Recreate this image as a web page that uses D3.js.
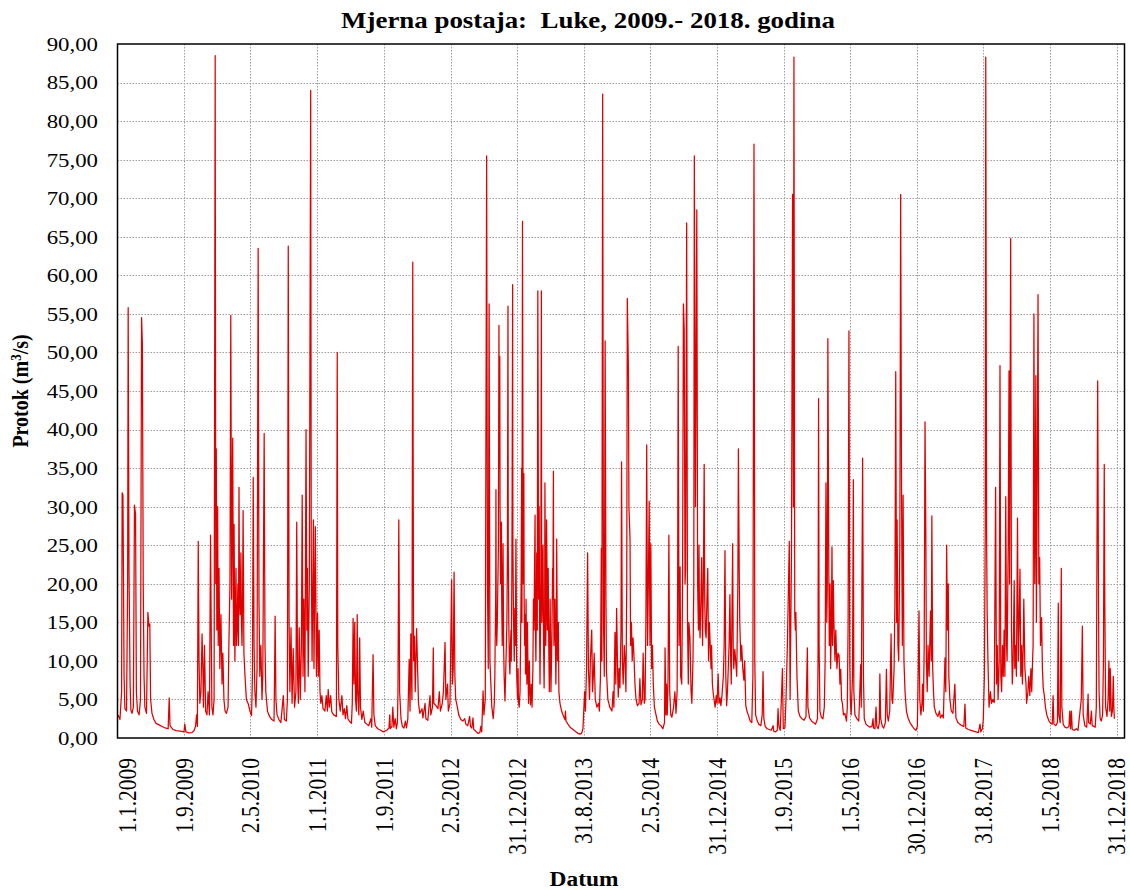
<!DOCTYPE html>
<html><head><meta charset="utf-8">
<script src="https://cdn.jsdelivr.net/npm/d3@7"></script>
<style>
html,body{margin:0;padding:0;background:#fff;}
svg{display:block;}
text{font-family:"Liberation Serif","Times New Roman",serif;fill:#000;}
</style></head><body>
<svg id="chart" width="1130" height="890"></svg>
<script>
// ---------------- data ----------------
const chartTitle = "Mjerna postaja:  Luke, 2009.- 2018. godina";
const xAxisTitle = "Datum";
const yAxisTitle = ["Protok (m", "3", "/s)"];
const yTickValues = [0,5,10,15,20,25,30,35,40,45,50,55,60,65,70,75,80,85,90];
const xTickLabels = ["1.1.2009","1.9.2009","2.5.2010","1.1.2011","1.9.2011","2.5.2012","31.12.2012","31.8.2013","2.5.2014","31.12.2014","1.9.2015","1.5.2016","30.12.2016","31.8.2017","1.5.2018","31.12.2018"];

// daily flow readings: [day of year, m3/s]
const flow2009 = [[3,3.0],[10,2.4],[16,6],[18,31.8],[21,31.5],[25,8],[28,3.8],[34,3.5],[38,20],[40,55.8],[43,22],[47,7],[50,3.6],[54,3.2],[59,4],[63,30.2],[67,29],[70,6],[74,3.5],[80,3.0],[85,5],[89,54.5],[92,51],[95,20],[98,8],[101,4],[107,3.2],[112,16.3],[116,14.5],[119,14.8],[122,5],[127,3.2],[134,2.4],[142,1.9],[153,1.7],[164,1.5],[175,1.3],[186,1.2],[190,5.2],[193,1.6],[204,1.1],[215,0.95],[229,0.9],[244,0.8],[247,1.8],[251,0.8],[262,0.65],[273,0.7],[280,0.9],[286,1.5],[290,3],[293,1.5],[296,25.5],[299,10],[302,4.5],[306,6],[310,13.5],[313,9],[315,4],[319,12],[323,3.5],[328,3],[332,6],[337,3],[341,26.3],[344,12],[346,4],[350,3],[354,5],[358,88.5],[360,20],[362,37.5],[364,14]];
const flow2010 = [[2,30],[4,12],[7,22],[10,9],[14,16],[18,7],[21,11],[25,5],[29,3.5],[34,3.2],[40,4],[43,12],[47,20],[50,54.8],[53,18],[57,38.9],[60,12],[62,27.7],[65,10],[67,16],[69,22],[71,12],[73,14],[76,20],[78,12],[80,32.5],[82,18],[84,16],[87,24],[89,15],[91,12],[93,18],[95,29.5],[98,11],[102,8],[107,5],[114,4.4],[120,3.5],[126,2.9],[129,8],[132,33.8],[135,12],[138,6],[142,4],[146,9],[150,63.5],[153,18],[156,8],[160,12],[164,5],[167,8],[172,39.5],[175,12],[178,6],[184,3.5],[189,3],[195,2.6],[200,2.4],[208,2.2],[210,8],[212,15.8],[215,5],[219,3],[226,2.4],[233,2],[242,5.5],[246,2.4],[253,2.2],[257,5],[260,63.8],[263,15],[266,6],[270,14.3],[274,4.5],[278,11.6],[283,4],[288,6],[291,28],[294,8],[297,4.5],[300,14.3],[304,5],[308,12],[311,31.5],[314,8],[317,18],[321,6],[325,40],[328,14],[330,22],[333,8],[337,20],[342,84],[344,25],[347,10],[352,28.3],[354,9],[359,27.4],[363,8]];
const flow2011 = [[2,16.2],[5,8],[8,14],[11,6],[14,4.5],[18,5.5],[22,3.8],[29,3.5],[34,5.5],[38,3.5],[41,6.3],[45,4],[50,5.5],[54,3.4],[61,3],[71,2.8],[74,50],[76,12],[80,5],[85,3.5],[91,5.5],[95,3],[100,3.8],[104,2.5],[109,4.2],[113,2.5],[118,2.2],[126,1.9],[129,4.5],[132,15.5],[135,7],[138,15],[141,5],[144,3.5],[147,16],[149,6],[153,3],[156,13],[159,4],[164,2.4],[169,3.5],[175,2],[182,1.8],[189,1.6],[197,2.5],[200,1.4],[205,10.8],[208,3],[213,1.6],[222,1.2],[233,1.0],[241,0.8],[248,0.9],[255,1.0],[263,1.3],[266,3],[268,1.2],[274,1.5],[277,4],[281,1.4],[286,2.5],[290,1.2],[294,2],[296,6],[299,28.3],[302,6],[307,2.5],[312,1.5],[318,1.3],[323,2.2],[327,1.3],[332,2.5],[337,10.2],[340,3.5],[343,13.5],[347,5],[350,61.7],[353,10],[356,13.2],[359,6],[364,14.2]];
const flow2012 = [[6,4.5],[11,3.2],[19,3.8],[22,2.6],[30,4.5],[33,2.5],[40,2.3],[48,5.5],[51,3],[57,4],[60,11.7],[62,4.5],[70,4.2],[77,3.8],[82,6],[86,3.5],[93,4.5],[97,6],[103,12.4],[106,5],[112,7],[115,3.5],[121,4.5],[127,20.5],[130,7],[133,9],[136,21.5],[139,8],[142,5],[148,4],[153,3],[161,2.4],[168,2.2],[175,2.5],[179,1.8],[186,1.6],[193,2.8],[196,1.5],[201,1.3],[205,2.6],[208,1.1],[215,0.9],[223,0.6],[230,0.7],[234,1.5],[237,0.8],[242,6.1],[245,3],[250,5],[255,75.5],[258,20],[261,9],[264,56.3],[267,10],[271,6.5],[274,4],[279,2.5],[283,4.5],[285,8],[286,12],[288,18],[289,32.2],[290,15],[292,12],[294,15],[296,20],[298,25],[300,53.5],[301,35],[303,49.5],[304,30],[306,20],[307,25],[309,28],[310,18],[312,12],[313,18],[315,25.2],[317,12],[319,8],[322,4.8],[325,9],[327,12],[329,15],[331,25],[333,56],[334,25],[336,15],[338,10],[340,8.3],[342,12],[344,14],[345,10],[347,20],[348,30],[350,58.8],[351,25],[353,16],[355,12],[356,10],[358,16.8],[360,12],[362,25.8],[365,8]];
const flow2013 = [[2,5],[4,9],[5,4.7],[8,4],[11,6],[13,12],[15,20],[17,35],[18,15],[20,67],[22,30],[23,20],[25,34.3],[26,18],[28,12],[30,16],[31,8.3],[33,18],[34,14],[36,7],[38,15],[39,12],[42,4.5],[45,10],[47,6],[49,4.3],[52,7],[55,4],[58,9],[60,18],[62,14],[64,22],[66,28.9],[67,15],[69,10],[71,18],[72,24],[74,14],[76,58],[78,30],[79,18],[81,30],[83,12],[84,7],[86,15],[87,20],[89,58],[90,25],[91,15],[93,20],[95,25],[97,12],[99,6.5],[101,15],[102,33.1],[104,20],[105,12],[107,18],[108,28.3],[110,20],[111,14],[113,18],[114,22],[116,12],[118,6],[120,12],[121,18],[123,10],[124,6],[126,10],[128,15],[130,22],[131,18],[133,34.6],[134,20],[135,12],[137,15],[139,18],[141,10],[142,7],[144,14],[145,25.8],[147,14],[148,10],[150,12],[151,15],[153,6],[157,4.5],[163,3.5],[168,3],[175,2.4],[177,3.5],[179,2.2],[186,1.8],[194,1.4],[201,1.2],[208,1.0],[215,0.8],[223,0.6],[230,0.5],[236,0.6],[241,1.2],[247,6],[250,3.5],[254,9],[258,24],[261,9],[265,5],[268,10],[273,14],[276,6],[279,8],[282,11],[286,5],[292,4],[298,4.5],[301,3.5],[305,8],[308,24.6],[310,10],[313,83.5],[316,15],[319,8],[322,51.5],[325,18],[327,8.6],[332,5],[339,4],[347,3.5],[351,6],[354,4],[358,13.7],[361,7],[364,16.8]];
const flow2014 = [[3,8],[5,5.3],[8,9],[11,6.5],[15,14],[17,35.8],[20,10],[23,7],[27,12],[30,10],[33,6],[36,20],[38,57],[42,48],[44,30],[48,25.8],[50,12],[53,15],[56,10],[59,13],[62,11],[66,7],[70,5],[75,4.2],[81,4.5],[84,7.7],[88,4.3],[93,5],[96,11],[100,4.5],[103,5],[106,15],[109,38],[112,12],[115,20],[118,30.7],[121,12],[124,25.2],[127,9],[130,12],[133,7],[137,4],[143,3],[148,2.2],[154,1.8],[161,1.6],[168,1.2],[174,2],[176,11.7],[179,3],[181,7],[184,3],[187,8],[190,26.3],[193,6],[197,3],[201,2.7],[207,4],[212,6],[216,3.2],[220,6],[222,20],[224,50.8],[227,12],[231,22.2],[233,8],[237,7],[240,20],[243,56.3],[246,53],[249,20],[251,22],[255,66.8],[258,15],[261,7],[263,15],[267,13],[271,6],[274,4.5],[278,10],[281,20],[283,75.5],[287,30],[289,45],[292,68.5],[295,20],[298,14],[300,25],[302,15],[304,13],[307,18],[310,23.4],[313,12],[316,20],[319,35.5],[321,18],[323,14],[326,13],[329,18],[332,22],[335,10],[338,15],[340,13],[344,9],[346,12],[349,7],[352,5.8],[357,4.5],[359,4],[363,5.5]];
const flow2015 = [[1,4.5],[5,8.3],[8,4.5],[12,5.2],[15,4.2],[19,5.5],[24,8],[27,12],[30,24.3],[33,8],[36,4.2],[39,6],[42,9],[45,12],[48,18.6],[51,10],[53,7],[58,25.2],[60,12],[62,9],[66,11.5],[69,10],[73,8],[77,20],[79,37.5],[82,22],[84,15],[88,10],[91,12],[95,9],[99,7.5],[102,10],[106,4.2],[111,3.4],[117,2.8],[122,2.2],[128,2],[132,8],[136,77],[139,10],[142,3],[148,2.2],[153,1.8],[161,1.6],[166,3],[169,8.6],[172,2.5],[177,1.5],[184,1.2],[192,1.1],[199,1.0],[206,1.6],[208,0.9],[215,0.8],[221,1.0],[224,3.8],[227,1.5],[232,1.0],[240,9],[243,1.2],[249,1.3],[253,5],[258,12],[265,25.5],[268,5],[273,23.7],[277,70.5],[280,30],[282,88.3],[285,16],[287,14],[289,16.3],[293,8],[298,3.5],[304,2.8],[311,2.5],[319,2.3],[326,2.8],[331,11.7],[333,4],[339,2.6],[346,2.2],[353,2],[361,1.8]];
const flow2016 = [[3,2.5],[5,10],[7,44],[9,12],[12,3.5],[17,2.7],[23,2.5],[28,4],[31,10],[34,33.1],[37,15],[39,20],[41,51.8],[44,25],[46,12],[49,20],[51,9],[54,15],[56,24.8],[58,12],[61,20.4],[63,15],[67,10],[70,14],[74,9],[78,11],[82,10.7],[85,7],[88,8.9],[91,5],[94,4.5],[98,3],[103,3.2],[109,2.2],[112,4],[115,15],[118,52.8],[121,10],[123,5],[126,3],[131,8],[134,33.5],[136,6],[140,3],[147,2.5],[154,2.2],[161,9.5],[163,4],[168,36.3],[171,8],[174,2.5],[180,1.8],[187,1.6],[195,1.4],[202,1.5],[206,2.5],[208,1.3],[213,1.2],[217,4],[220,1.5],[225,1.2],[229,2],[231,8.3],[234,2.5],[240,1.5],[245,1.3],[251,2],[255,8.9],[258,3],[262,2.2],[267,3.5],[272,13.5],[275,5],[278,4.5],[283,9],[286,17.7],[289,47.5],[292,15],[294,28.3],[297,12],[300,10],[304,25],[307,70.5],[310,34.3],[313,12],[316,31.5],[319,10],[323,6],[328,3.5],[334,2.6],[341,2],[348,1.6],[356,1.2],[363,1.0]];
const flow2017 = [[2,1.5],[5,8],[8,16.5],[11,5],[15,3],[19,4.5],[21,7],[24,3.5],[27,12],[30,41],[33,26.5],[35,10],[38,6],[41,12],[45,8],[50,16.5],[53,10],[55,28.8],[58,9],[61,6],[64,4],[70,3.2],[77,2.8],[83,3.5],[86,2.6],[92,3],[97,2.6],[103,10.4],[106,6],[109,25],[112,14],[115,20],[117,8],[121,5],[126,3.5],[132,3.2],[139,7],[143,2.6],[150,2],[157,1.8],[165,1.6],[172,1.5],[176,4.4],[179,1.3],[188,1.1],[198,1.0],[207,0.9],[216,0.8],[225,0.7],[231,1.8],[234,0.8],[240,1.2],[243,2.5],[247,8],[250,26.5],[252,88.3],[255,26.8],[257,16.5],[260,10],[264,4],[269,6],[273,4.5],[278,5],[283,4.6],[288,32.5],[291,7],[294,12],[297,5],[301,10],[304,48.3],[307,8],[310,6],[313,12],[316,8],[319,14],[322,8],[325,31.3],[328,12],[330,10],[334,25],[337,47.6],[339,20],[343,64.8],[346,14],[349,7],[352,10],[356,20.4],[358,9],[361,12],[364,8]];
const flow2018 = [[3,28.5],[6,10],[9,15],[12,21.9],[15,8],[18,12],[21,7],[24,12],[26,18],[30,9],[34,7],[36,4.5],[41,6],[44,8],[48,5.5],[52,9],[55,6],[58,10],[60,12],[63,55],[66,20],[68,30],[70,47],[72,15],[74,25],[78,57.5],[81,20],[84,23.4],[87,12],[91,15.6],[94,9],[97,6.5],[101,5.5],[105,4],[110,3],[118,2.2],[125,1.9],[130,1.8],[133,5.5],[136,1.8],[143,1.6],[149,2],[152,17.5],[154,3],[159,2],[163,22],[165,4],[170,1.8],[176,1.4],[183,1.3],[191,1.5],[194,3.5],[197,1.2],[200,3.5],[203,1.1],[211,1.0],[218,1.2],[224,1.0],[231,3.3],[236,5],[240,14.5],[243,3],[249,1.6],[256,1.4],[261,5.7],[263,2],[269,1.8],[273,3.5],[276,1.6],[282,1.5],[287,1.4],[291,4],[296,46.3],[299,18],[301,6],[305,2.5],[309,2.2],[314,3],[317,10],[320,35.5],[322,17.5],[325,4],[330,2.8],[334,5],[337,10],[340,3.5],[342,9],[346,2.8],[350,3.5],[353,8],[355,4],[357,2.5]];

const yearSeries = [[2009,flow2009],[2010,flow2010],[2011,flow2011],[2012,flow2012],[2013,flow2013],[2014,flow2014],[2015,flow2015],[2016,flow2016],[2017,flow2017],[2018,flow2018]];

// ---------------- layout ----------------
const plot = {left:117.5, right:1124.5, top:44, bottom:738};
const SX = 1.17; // horizontal glyph stretch seen in the reference
const svg = d3.select("#chart");

const series = [];
yearSeries.forEach(([yr, arr]) => arr.forEach(([doy, v]) => {
  series.push({date: d3.timeDay.offset(new Date(yr,0,1), doy-1), value: v});
}));

const parseLabel = d3.timeParse("%d.%m.%Y");
const xTicks = xTickLabels.map(l => ({label:l, date:parseLabel(l)}));

const x = d3.scaleTime().domain([new Date(2009,0,1), new Date(2019,0,29)]).range([plot.left, plot.right]);
const y = d3.scaleLinear().domain([0,90]).range([plot.bottom, plot.top]);

const fmtLocale = d3.formatLocale({decimal:",", thousands:".", grouping:[3], currency:["",""]});
const fmt = fmtLocale.format(".2f");

// gridlines
const grid = svg.append("g").attr("stroke","#9c9c9c").attr("stroke-width",1).attr("stroke-dasharray","1.5,1.5").attr("fill","none");
grid.selectAll("line.h").data(yTickValues.filter(v => v>0 && v<90)).join("line").attr("class","h")
  .attr("x1",plot.left).attr("x2",plot.right)
  .attr("y1",d=>Math.round(y(d))+0.5).attr("y2",d=>Math.round(y(d))+0.5);
grid.selectAll("line.v").data(xTicks.filter(t => x(t.date) > plot.left+2 && x(t.date) < plot.right-2)).join("line").attr("class","v")
  .attr("y1",plot.top).attr("y2",plot.bottom)
  .attr("x1",d=>Math.round(x(d.date))+0.5).attr("x2",d=>Math.round(x(d.date))+0.5);

// clip + line
svg.append("defs").append("clipPath").attr("id","clip").append("rect")
  .attr("x",plot.left).attr("y",plot.top).attr("width",plot.right-plot.left).attr("height",plot.bottom-plot.top);
const line = d3.line().x(d=>x(d.date)).y(d=>y(d.value));
svg.append("path").datum(series).attr("clip-path","url(#clip)")
  .attr("fill","none").attr("stroke","#e00000").attr("stroke-width",1.25).attr("stroke-linejoin","round")
  .attr("d", line);

// border
svg.append("rect").attr("x",plot.left).attr("y",plot.top).attr("width",plot.right-plot.left).attr("height",plot.bottom-plot.top)
  .attr("fill","none").attr("stroke","#000").attr("stroke-width",1.5);

// y tick labels
const yl = svg.append("g");
yTickValues.forEach(v => {
  yl.append("g").attr("transform",`translate(98,${y(v)}) scale(${SX},1)`)
    .append("text").attr("text-anchor","end").attr("dy","0.35em").attr("font-size",19.5).text(fmt(v));
});

// x tick labels (rotated)
const xl = svg.append("g");
xTicks.forEach(t => {
  const tx = Math.max(x(t.date), plot.left + 10);
  xl.append("g").attr("transform",`translate(${tx},758) scale(${SX},1) rotate(-90)`)
    .append("text").attr("text-anchor","end").attr("dy","0.35em").attr("font-size",21.5).text(t.label);
});

// title
svg.append("g").attr("transform",`translate(588,28) scale(${SX},1)`)
  .append("text").attr("text-anchor","middle").attr("font-size",23).attr("font-weight","bold")
  .style("white-space","pre").text(chartTitle);

// x axis title
svg.append("g").attr("transform",`translate(584,886) scale(${SX},1)`)
  .append("text").attr("text-anchor","middle").attr("font-size",20).attr("font-weight","bold").text(xAxisTitle);

// y axis title
const yt = svg.append("g").attr("transform",`translate(20,391) scale(${SX},1) rotate(-90)`)
  .append("text").attr("text-anchor","middle").attr("dy","0.35em").attr("font-size",20).attr("font-weight","bold");
yt.append("tspan").text(yAxisTitle[0]);
yt.append("tspan").attr("font-size",13).attr("dy","-0.45em").text(yAxisTitle[1]);
yt.append("tspan").attr("dy","0.3em").text(yAxisTitle[2]);
</script>
</body></html>
